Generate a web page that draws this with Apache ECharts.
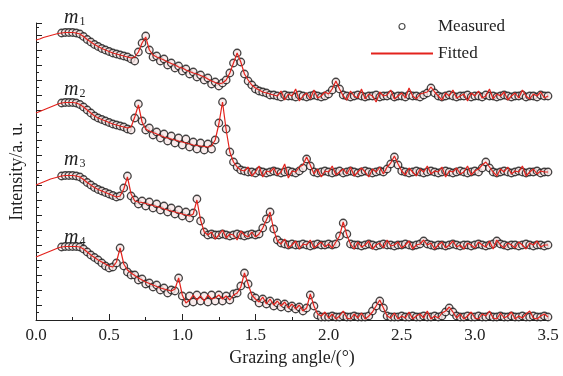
<!DOCTYPE html>
<html>
<head>
<meta charset="utf-8">
<script src="https://cdn.jsdelivr.net/npm/echarts@6/dist/echarts.min.js"></script>
<style>
  html, body { margin: 0; padding: 0; background: #fff; }
  #chart { width: 563px; height: 376px; }
</style>
</head>
<body>
<div id="chart"></div>
<script>
// grazing angle (deg), shared by all four samples
const angle = [
  0, 0.025, 0.05, 0.075, 0.1, 0.125, 0.15, 0.175, 0.2, 0.225,
  0.25, 0.275, 0.3, 0.325, 0.35, 0.375, 0.4, 0.425, 0.45, 0.475,
  0.5, 0.525, 0.55, 0.575, 0.6, 0.625, 0.65, 0.675, 0.7, 0.725,
  0.75, 0.775, 0.8, 0.825, 0.85, 0.875, 0.9, 0.925, 0.95, 0.975,
  1.0, 1.025, 1.05, 1.075, 1.1, 1.125, 1.15, 1.175, 1.2, 1.225,
  1.25, 1.275, 1.3, 1.325, 1.35, 1.375, 1.4, 1.425, 1.45, 1.475,
  1.5, 1.525, 1.55, 1.575, 1.6, 1.625, 1.65, 1.675, 1.7, 1.725,
  1.75, 1.775, 1.8, 1.825, 1.85, 1.875, 1.9, 1.925, 1.95, 1.975,
  2.0, 2.025, 2.05, 2.075, 2.1, 2.125, 2.15, 2.175, 2.2, 2.225,
  2.25, 2.275, 2.3, 2.325, 2.35, 2.375, 2.4, 2.425, 2.45, 2.475,
  2.5, 2.525, 2.55, 2.575, 2.6, 2.625, 2.65, 2.675, 2.7, 2.725,
  2.75, 2.775, 2.8, 2.825, 2.85, 2.875, 2.9, 2.925, 2.95, 2.975,
  3.0, 3.025, 3.05, 3.075, 3.1, 3.125, 3.15, 3.175, 3.2, 3.225,
  3.25, 3.275, 3.3, 3.325, 3.35, 3.375, 3.4, 3.425, 3.45, 3.475,
  3.5
];

// m1 (curves are stacked with an offset, a.u.)
const m1Measured = [
  null, null, null, null, null, null, null, 287, 287.5, 287.5,
  287.5, 287, 286, 283.5, 280.5, 278, 275.5, 273.5, 271.5, 270,
  268.5, 267, 266, 265, 264, 263, 261, 259, 268, 277,
  284, 270, 263, 264, 259, 261, 255, 257, 252, 254,
  249, 251, 246, 248, 243, 245, 240, 242, 236, 238,
  234, 237, 240, 247, 257, 267, 258, 246, 239, 235,
  231, 229, 228, 227, 225, 225, 224, 223, 225, 224,
  224, 223, 225, 224, 223, 224, 225, 224, 223, 224,
  226, 230, 238, 231, 225, 224, 223, 224, 225, 224,
  223, 224, 224, 225, 223, 224, 224, 225, 223, 224,
  224, 223, 225, 224, 224, 223, 225, 227, 232, 227,
  224, 223, 224, 225, 224, 223, 224, 224, 225, 223,
  224, 224, 223, 225, 224, 224, 223, 224, 225, 224,
  223, 224, 224, 225, 223, 224, 224, 223, 225, 224,
  224
];
const m1Fitted = [
  280, 281, 282.5, 283.5, 284.5, 285.5, 286.5, 287, 287.5, 287.5,
  287.5, 287, 286, 283.5, 280.5, 278, 275.5, 273.5, 271.5, 270,
  268.5, 267, 266, 265, 264, 263, 262, 263, 268, 277,
  283, 270, 265, 263, 261.5, 260, 258, 256.5, 255, 253,
  252, 250, 248.5, 247, 246, 244.5, 243, 241, 239, 237.5,
  236, 237, 240, 247, 257, 267, 258, 246, 240, 235,
  232, 230, 228, 227, 226, 225, 224, 229, 220, 226,
  224, 231, 219, 224, 227, 221, 230, 222, 224, 228,
  226, 231, 239, 231, 224, 220, 229, 224, 222, 231,
  221, 226, 224, 218, 228, 224, 225, 230, 221, 224,
  227, 222, 232, 224, 221, 226, 227, 228, 233, 228,
  224, 220, 227, 224, 230, 222, 224, 226, 219, 227,
  224, 229, 222, 224, 231, 221, 226, 224, 228, 220,
  224, 227, 222, 230, 224, 221, 226, 224, 228, 222,
  224
];

// m2
const m2Measured = [
  null, null, null, null, null, null, null, 217, 217.5, 217.5,
  217.5, 217, 215.5, 213, 210, 207, 204, 202, 200.5, 199,
  197.5, 196, 195, 194, 193, 191, 190, 202, 216, 199,
  190, 192, 185, 188, 182, 186, 179, 184, 177, 182,
  175, 181, 173, 178, 171, 177, 170, 176, 171, 180,
  197, 218, 191, 168, 158, 153, 150, 149, 148, 148,
  147, 149, 148, 147, 148, 149, 148, 147, 148, 149,
  148, 147, 149, 152, 161, 154, 148, 147, 148, 149,
  148, 147, 148, 149, 147, 148, 149, 148, 147, 148,
  149, 148, 147, 148, 149, 148, 151, 156, 163, 155,
  149, 148, 147, 148, 149, 148, 147, 148, 149, 148,
  147, 148, 149, 148, 147, 148, 149, 148, 147, 148,
  149, 148, 152, 158, 152, 148, 147, 148, 149, 148,
  147, 148, 149, 148, 147, 148, 148, 149, 147, 148,
  148
];
const m2Fitted = [
  207, 208.5, 210, 211.5, 213, 214.5, 216, 217, 217.5, 217.5,
  217.5, 217, 215.5, 213, 210, 207, 204, 202, 200.5, 199,
  197.5, 196, 195, 194, 193, 192, 193, 203, 215, 198,
  191, 189, 187.5, 186, 184.5, 183, 182, 181, 180, 179,
  178, 177, 176, 175, 174.5, 174, 173.5, 173, 174, 180,
  196, 218, 190, 168, 158, 153, 150, 149, 153, 144,
  148, 154, 143, 149, 148, 152, 145, 148, 156, 142,
  149, 148, 153, 155, 163, 155, 146, 151, 143, 149,
  148, 154, 145, 148, 151, 146, 153, 144, 148, 152,
  148, 143, 151, 148, 153, 146, 153, 157, 164, 156,
  149, 145, 152, 148, 144, 151, 148, 154, 146, 149,
  148, 153, 143, 149, 148, 152, 146, 148, 154, 145,
  149, 151, 155, 158, 153, 148, 144, 151, 148, 153,
  146, 149, 148, 154, 144, 148, 151, 146, 149, 148,
  148
];

// m3
const m3Measured = [
  null, null, null, null, null, null, null, 144, 144.5, 144.5,
  144.5, 144, 143, 140.5, 137.5, 135, 132.5, 130.5, 129, 127.5,
  126, 124.5, 123, 124, 132, 144, 124, 120, 116, 119,
  114, 118, 112, 116, 110, 114, 108, 112, 106, 110,
  104, 108, 102, 107, 121, 99, 88, 85, 86, 85,
  85, 86, 85, 84, 85, 86, 85, 84, 85, 86,
  85, 86, 92, 101, 108, 91, 80, 77, 76, 75,
  76, 75, 75, 76, 75, 74, 75, 76, 75, 75,
  76, 75, 76, 84, 97, 86, 76, 75, 75, 74,
  75, 76, 75, 74, 75, 76, 75, 75, 74, 75,
  75, 76, 75, 74, 75, 76, 79, 76, 75, 74,
  75, 75, 74, 75, 76, 75, 74, 75, 75, 74,
  75, 76, 75, 74, 75, 76, 79, 76, 75, 74,
  75, 75, 74, 75, 76, 75, 74, 75, 75, 74,
  75
];
const m3Fitted = [
  135, 136.5, 138, 139.5, 141, 142, 143, 144, 144.5, 144.5,
  144.5, 144, 143, 140.5, 137.5, 135, 132.5, 130.5, 129, 127.5,
  126, 124.5, 123, 124, 131, 143, 126, 119, 118, 117.5,
  116.5, 115.5, 114.5, 113.5, 112.5, 111, 110, 109, 108, 107,
  106, 105, 104, 106, 120, 100, 88, 85, 88, 81,
  85, 90, 82, 86, 85, 80, 89, 85, 83, 88,
  83, 86, 92, 100, 108, 90, 79, 76, 81, 72,
  75, 79, 71, 76, 75, 80, 72, 75, 78, 73,
  76, 72, 78, 84, 98, 85, 76, 71, 78, 73,
  75, 79, 71, 75, 77, 72, 80, 74, 75, 78,
  72, 75, 79, 71, 75, 76, 80, 75, 77, 71,
  75, 78, 72, 75, 79, 73, 75, 71, 77, 75,
  72, 78, 75, 73, 79, 71, 80, 75, 72, 77,
  75, 72, 78, 75, 71, 77, 75, 79, 73, 75,
  75
];

// m4
const m4Measured = [
  null, null, null, null, null, null, null, 73, 73.5, 73.5,
  73.5, 73.5, 73, 71, 68, 65, 62.5, 60, 57, 54,
  52, 53, 57, 72, 54, 48, 45, 45, 40, 41,
  36, 37, 33, 35, 30, 32, 27, 30, 29, 42,
  24, 17, 24, 18, 25, 19, 24, 18, 25, 19,
  25, 19, 24, 20, 26, 27, 34, 47, 36, 24,
  22, 17, 21, 16, 19, 14, 17, 13, 16, 12,
  14, 11, 13, 9, 12, 25, 14, 5, 3, 3,
  3, 4, 3, 3, 4, 3, 3, 4, 3, 3,
  3, 4, 9, 14, 19, 12, 4, 3, 3, 3,
  4, 3, 3, 4, 3, 3, 4, 3, 3, 4,
  3, 4, 8, 12, 8, 4, 3, 3, 4, 3,
  3, 4, 3, 3, 4, 3, 3, 4, 3, 3,
  4, 3, 3, 4, 3, 3, 4, 3, 3, 4,
  3
];
const m4Fitted = [
  63, 64.5, 66, 67.5, 69, 70.5, 72, 73, 73.5, 73.5,
  73.5, 73.5, 73, 71, 68, 65, 62.5, 60, 58, 56,
  54, 53, 58, 72, 56, 50, 47, 44.5, 42, 40,
  38, 36.5, 35, 33.5, 32, 31, 30, 29, 31, 42,
  25, 17, 20, 25, 20, 24, 19, 25, 21, 22,
  25, 21, 24, 20, 25, 27, 33, 47, 36, 25,
  21, 18, 23, 16, 21, 15, 19, 14, 18, 12,
  16, 11, 15, 9, 12, 26, 14, 6, 4, 8,
  2, 6, 1, 4, 9, 2, 1, 6, 2, 7,
  1, 4, 8, 14, 20, 12, 4, 2, 7, 1,
  4, 2, 8, 1, 4, 6, 2, 9, 1, 4,
  2, 7, 9, 13, 8, 2, 6, 1, 4, 8,
  2, 1, 6, 4, 9, 2, 1, 7, 2, 4,
  8, 1, 4, 2, 6, 9, 2, 1, 4, 6,
  3
];

const measuredSets = [m1Measured, m2Measured, m3Measured, m4Measured];
const fittedSets = [m1Fitted, m2Fitted, m3Fitted, m4Fitted];

// curve labels m1..m4 and where they sit (data coords)
const sampleSubs = ["1", "2", "3", "4"];
const labelAngle = [0.265, 0.265, 0.265, 0.265];
const labelLevel = [302, 230, 160, 82];

const xTicks = [0, 0.5, 1, 1.5, 2, 2.5, 3, 3.5];

const SERIF = "'Liberation Serif','DejaVu Serif',serif";
const RED = "#e3231d";

const chart = echarts.init(document.getElementById("chart"), null, { renderer: "canvas" });

const series = [];
measuredSets.forEach((arr) => {
  series.push({
    type: "scatter",
    name: "Measured",
    symbol: "circle",
    symbolSize: 7.5,
    itemStyle: { color: "#f8e6e6", borderColor: "#161616", borderWidth: 1.3 },
    data: angle.map((x, i) => [x, arr[i]]).filter((p) => p[1] != null),
    z: 2,
  });
});
fittedSets.forEach((arr) => {
  series.push({
    type: "line",
    name: "Fitted",
    symbol: "none",
    showSymbol: false,
    lineStyle: { color: RED, width: 1.2 },
    itemStyle: { color: RED },
    data: angle.map((x, i) => [x, arr[i]]),
    z: 3,
  });
});

chart.setOption({
  animation: false,
  backgroundColor: "#fff",
  grid: { left: 36, right: 15, top: 23, bottom: 56, containLabel: false },
  legend: {
    data: [
      { name: "Measured", itemStyle: { color: "#fff", borderColor: "#222", borderWidth: 1.2 } },
      { name: "Fitted", itemStyle: { opacity: 0 } },
    ],
    orient: "vertical",
    left: 365,
    top: 13,
    itemWidth: 62,
    itemHeight: 6,
    itemGap: 10,
    textStyle: { fontFamily: SERIF, fontSize: 17, color: "#222" },
  },
  xAxis: {
    type: "value",
    min: 0,
    max: 3.5,
    interval: 0.5,
    name: "Grazing angle/(°)",
    nameLocation: "middle",
    nameGap: 28,
    nameTextStyle: { fontFamily: SERIF, fontSize: 18, color: "#222" },
    axisLine: { show: true, lineStyle: { color: "#222", width: 1 } },
    axisTick: { show: true, inside: true, length: 6, lineStyle: { color: "#222" } },
    minorTick: { show: true, splitNumber: 2, length: 3, lineStyle: { color: "#222" } },
    axisLabel: {
      fontFamily: SERIF,
      fontSize: 17,
      color: "#222",
      margin: 7,
      formatter: (v) => (xTicks.includes(v) ? v.toFixed(1) : ""),
    },
    splitLine: { show: false },
  },
  yAxis: {
    type: "value",
    min: 0,
    max: 297,
    interval: 15,
    name: "Intensity/a. u.",
    nameLocation: "middle",
    nameGap: 10,
    nameTextStyle: { fontFamily: SERIF, fontSize: 18, color: "#222" },
    axisLine: { show: true, lineStyle: { color: "#222", width: 1 } },
    axisTick: { show: true, inside: true, length: 6, lineStyle: { color: "#222" } },
    minorTick: { show: true, splitNumber: 2, length: 3, lineStyle: { color: "#222" } },
    axisLabel: { show: false },
    splitLine: { show: false },
  },
  series,
});

// place the m_n labels through the axes' own scales
const graphics = sampleSubs.map((s, k) => {
  const [px, py] = chart.convertToPixel({ gridIndex: 0 }, [labelAngle[k], labelLevel[k]]);
  return {
    type: "text",
    x: px,
    y: py,
    z: 10,
    style: {
      text: "{m|m}{s|" + s + "}",
      align: "center",
      verticalAlign: "middle",
      rich: {
        m: { fontFamily: SERIF, fontStyle: "italic", fontSize: 20, fill: "#222", lineHeight: 20 },
        s: { fontFamily: SERIF, fontSize: 12, fill: "#222", lineHeight: 20, verticalAlign: "bottom", padding: [8, 0, 0, 1] },
      },
    },
  };
});
chart.setOption({ graphic: graphics });
</script>
</body>
</html>
